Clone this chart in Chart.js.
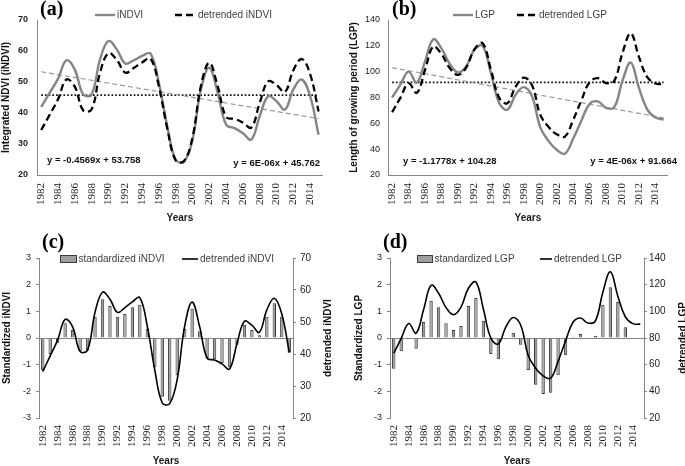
<!DOCTYPE html>
<html>
<head>
<meta charset="utf-8">
<script src="https://cdn.jsdelivr.net/npm/chart.js@4.4.0/dist/chart.umd.min.js"></script>
<style>
  html, body { margin: 0; padding: 0; background: #fff; }
  #wrap { position: relative; width: 685px; height: 466px; overflow: hidden; }
  canvas { position: absolute; }
</style>
</head>
<body>
<div id="wrap">
  <canvas id="chart-a" width="340" height="230" style="left:0;top:0"></canvas>
  <canvas id="chart-b" width="345" height="230" style="left:340px;top:0"></canvas>
  <canvas id="chart-c" width="340" height="236" style="left:0;top:230px"></canvas>
  <canvas id="chart-d" width="350" height="236" style="left:340px;top:230px"></canvas>
</div>
<script>
const years = ['1982', '1983', '1984', '1985', '1986', '1987', '1988', '1989', '1990', '1991',
    '1992', '1993', '1994', '1995', '1996', '1997', '1998', '1999', '2000', '2001',
    '2002', '2003', '2004', '2005', '2006', '2007', '2008', '2009', '2010', '2011',
    '2012', '2013', '2014', '2015'];

const indvi = [42, 46.5, 51, 57, 54, 46, 46, 57.3, 63.2, 60.5, 56, 57, 58.4, 59.2, 49.7, 35.7, 24.9,
    24.3, 31.4, 47.6, 54.6, 46.5, 36.2, 35.1, 33.5, 31.4, 39, 45.4, 43.8, 41.1, 47.6, 50.8, 45.4, 33];
const detrendedIndvi = [34.5, 39.4, 44.4, 50.8, 48.5, 40.8, 41.2, 53, 59.3, 57.1, 53, 54.5, 56.3, 57.6,
    48.6, 35, 24.7, 24.5, 32.1, 48.7, 56.2, 48.6, 38.7, 38.1, 36.9, 35.3, 43.3, 50.2, 49, 46.8, 53.8,
    57.4, 52.5, 40.5];
const stdIndvi = [-1.2, -0.6, -0.2, 0.55, 0.3, -0.5, -0.45, 0.8, 1.45, 1.2, 0.8, 0.9, 1.15, 1.25, 0.35,
    -1.1, -2.2, -2.35, -1.4, 0.35, 1.1, 0.25, -0.75, -0.8, -0.95, -1.1, -0.25, 0.5, 0.3, 0.1, 0.8, 1.3,
    0.8, -0.55];
const indviTrendEnds = [53.3, 38.2];
const indviMean = 45.76;

const lgp = [80, 90, 100, 91.5, 108, 125, 118, 106, 99.5, 104, 117, 120, 99, 76, 70.5, 82, 88, 81, 57,
    46.4, 39.5, 36.5, 48, 62, 75, 77, 72, 72.5, 93, 107, 87.5, 70.8, 64.5, 63];
const detrendedLgp = [68.6, 79.7, 90.9, 83.6, 101.3, 119.5, 113.6, 102.8, 97.5, 103.2, 117.3, 122, 101.7,
    79.9, 75.6, 88.2, 95.4, 89.6, 66.8, 57.3, 51.6, 49.8, 62.5, 77.7, 91.8, 95, 91.2, 92.9, 114.5, 129.7,
    111.4, 95.9, 90.8, 90.4];
const stdLgp = [-1.15, -0.5, -0.05, -0.4, 0.6, 1.4, 1.15, 0.55, 0.3, 0.45, 1.2, 1.5, 0.65, -0.6, -0.8,
    -0.05, 0.2, -0.25, -1.2, -1.75, -2.1, -2.05, -1.4, -0.65, 0.05, 0.15, -0.02, 0.08, 1.25, 1.9, 1.35,
    0.4, -0.02, -0.03];
const lgpTrendEnds = [103.1, 64.2];
const lgpMean = 91.66;

const sans = 'Liberation Sans';
const serif = 'Liberation Serif';
const axisGray = '#868686';

function ends(vals) {
    return [{ x: years[0], y: vals[0] }, { x: years[years.length - 1], y: vals[1] }];
}

// panel letter, legend, equations and right-hand axis title
function makeDecor(cfg) {
    return {
        id: 'decor',
        afterDraw(chart) {
            const ctx = chart.ctx;
            const sets = chart.data.datasets;
            ctx.save();
            ctx.textBaseline = 'middle';
            ctx.textAlign = 'left';
            ctx.fillStyle = '#000';
            ctx.font = 'bold 20px "' + serif + '"';
            ctx.fillText(cfg.label[0], cfg.label[1], cfg.label[2]);

            ctx.font = '10px "' + sans + '"';
            cfg.legend.forEach(item => {
                const ds = sets[item.ds];
                if (item.box) {
                    ctx.fillStyle = ds.backgroundColor;
                    ctx.fillRect(item.x, item.y - 3.5, item.w, 7);
                    ctx.strokeStyle = ds.borderColor;
                    ctx.lineWidth = 1;
                    ctx.strokeRect(item.x + 0.5, item.y - 3.5, item.w - 1, 7);
                } else {
                    ctx.strokeStyle = ds.borderColor;
                    ctx.lineWidth = ds.borderWidth;
                    ctx.setLineDash(ds.borderDash || []);
                    ctx.beginPath();
                    ctx.moveTo(item.x, item.y);
                    ctx.lineTo(item.x + item.w, item.y);
                    ctx.stroke();
                    ctx.setLineDash([]);
                }
                ctx.fillStyle = '#404040';
                ctx.fillText(ds.label, item.x + item.w + (item.gap || 2), item.y);
            });

            ctx.font = 'bold 9.5px "' + sans + '"';
            ctx.fillStyle = '#111';
            (cfg.notes || []).forEach(n => {
                ctx.textAlign = n.align || 'left';
                ctx.fillText(n.text, n.x, n.y);
            });

            if (cfg.rightTitle) {
                const a = chart.chartArea;
                ctx.translate(cfg.rightTitle[1], (a.top + a.bottom) / 2);
                ctx.rotate(-Math.PI / 2);
                ctx.textAlign = 'center';
                ctx.fillStyle = '#111';
                ctx.font = 'bold 10px "' + sans + '"';
                ctx.fillText(cfg.rightTitle[0], 0, 0);
            }
            ctx.restore();
        }
    };
}

function yearAxis(height, pad, showLine, titlePad, lh) {
    return {
        offset: true,
        grid: { display: false, drawTicks: false },
        border: { display: showLine, color: axisGray, width: 1 },
        ticks: {
            autoSkip: false, minRotation: 90, maxRotation: 90, padding: pad, color: '#1a1a1a',
            font: { family: serif, size: 11 },
            callback: (v, i) => i % 2 === 0 ? years[i] : ''
        },
        title: {
            display: true, text: 'Years', color: '#1a1a1a',
            font: { family: sans, size: 10, weight: 'bold', lineHeight: lh },
            padding: { top: 0, bottom: titlePad }
        },
        afterFit: s => { s.height = height; }
    };
}

function valueAxis(opts) {
    const ax = {
        position: opts.position || 'left',
        min: opts.min, max: opts.max,
        ticks: {
            stepSize: opts.step, padding: opts.pad, color: '#222',
            font: { family: sans, size: opts.size || 9, weight: opts.bold ? 'bold' : 'normal' }
        },
        grid: {
            drawOnChartArea: !!opts.zeroLine,
            drawTicks: !!opts.tickMarks,
            tickLength: 3,
            tickColor: axisGray,
            color: c => (opts.zeroLine && c.tick && c.tick.value === 0) ? axisGray : 'rgba(0,0,0,0)'
        },
        border: { display: true, color: axisGray, width: 1 },
        afterFit: s => { s.width = opts.width; }
    };
    if (opts.title) {
        ax.title = {
            display: true, text: opts.title, color: '#111',
            font: { family: sans, size: 10, weight: 'bold' },
            padding: { top: opts.titlePad, bottom: 0 }
        };
    }
    return ax;
}

function lineSet(label, data, color, width, dash, tension) {
    return {
        type: 'line', label: label, data: data, borderColor: color, backgroundColor: color,
        borderWidth: width, borderDash: dash, tension: tension, pointRadius: 0, fill: false
    };
}

function trendChart(id, series, detrended, trendEnds, mean, names, yCfg, layoutPad, decor) {
    new Chart(document.getElementById(id), {
        type: 'line',
        data: {
            labels: years,
            datasets: [
                lineSet(names[1], detrended, '#000', 2.3, [7, 4], 0.4),
                lineSet(names[0], series, '#858585', 2.4, [], 0.4),
                lineSet('trend', ends(trendEnds), '#9a9a9a', 1.2, [5, 3], 0),
                lineSet('mean', ends([mean, mean]), '#111', 1.7, [1.7, 2], 0)
            ]
        },
        options: {
            responsive: false, animation: false, devicePixelRatio: 1,
            layout: { padding: layoutPad },
            plugins: { legend: { display: false }, tooltip: { enabled: false } },
            scales: {
                x: yearAxis(55, 8, true, 5.7, 1.2),
                y: valueAxis(yCfg)
            }
        },
        plugins: [makeDecor(decor)]
    });
}

function standardChart(id, bars, line, names, yCfg, y2Cfg, layoutPad, labelPad, decor) {
    new Chart(document.getElementById(id), {
        type: 'bar',
        data: {
            labels: years,
            datasets: [
                {
                    type: 'bar', label: names[0], data: bars, yAxisID: 'y', order: 2,
                    backgroundColor: '#9e9e9e', borderColor: '#3a3a3a', borderWidth: 1,
                    barPercentage: 0.45, categoryPercentage: 1
                },
                Object.assign(lineSet(names[1], line, '#000', 1.6, [], 0.4), { yAxisID: 'y2', order: 1 })
            ]
        },
        options: {
            responsive: false, animation: false, devicePixelRatio: 1,
            layout: { padding: layoutPad },
            plugins: { legend: { display: false }, tooltip: { enabled: false } },
            scales: {
                x: yearAxis(48, labelPad, false, 0, 1),
                y: valueAxis(yCfg),
                y2: valueAxis(y2Cfg)
            }
        },
        plugins: [makeDecor(decor)]
    });
}

trendChart('chart-a', indvi, detrendedIndvi, indviTrendEnds, indviMean, ['iNDVI', 'detrended iNDVI'],
    { min: 20, max: 70, step: 10, pad: 9, bold: true, width: 37, title: 'Integrated NDVI (iNDVI)', titlePad: 0 },
    { top: 20, right: 15, left: 0, bottom: 0 },
    {
        label: ['(a)', 40, 10],
        legend: [{ ds: 1, x: 95, y: 15, w: 20 }, { ds: 0, x: 175, y: 15, w: 20, gap: 3 }],
        notes: [
            { text: 'y = -0.4569x + 53.758', x: 47, y: 160 },
            { text: 'y = 6E-06x + 45.762', x: 320, y: 163, align: 'right' }
        ]
    });

trendChart('chart-b', lgp, detrendedLgp, lgpTrendEnds, lgpMean, ['LGP', 'detrended LGP'],
    { min: 20, max: 140, step: 20, pad: 8, width: 48, title: 'Length of growing period (LGP)', titlePad: 8 },
    { top: 20, right: 12, left: 0, bottom: 0 },
    {
        label: ['(b)', 52, 10],
        legend: [{ ds: 1, x: 113, y: 15, w: 20 }, { ds: 0, x: 177, y: 15, w: 19, gap: 3 }],
        notes: [
            { text: 'y = -1.1778x + 104.28', x: 63, y: 161 },
            { text: 'y = 4E-06x + 91.664', x: 337, y: 161, align: 'right' }
        ]
    });

standardChart('chart-c', stdIndvi, detrendedIndvi, ['standardized iNDVI', 'detrended iNDVI'],
    { min: -3, max: 3, step: 1, pad: 5, width: 39, tickMarks: true, zeroLine: true, title: 'Standardized iNDVI', titlePad: 1.5 },
    { position: 'right', min: 20, max: 70, step: 10, pad: 4, size: 10, width: 47, tickMarks: true },
    { top: 28, right: 0, left: 0, bottom: 0 }, 7,
    {
        label: ['(c)', 42, 13],
        legend: [{ ds: 0, x: 60, y: 29, w: 17, gap: 1.5, box: true }, { ds: 1, x: 182, y: 29, w: 16 }],
        rightTitle: ['detrended iNDVI', 328]
    });

standardChart('chart-d', stdLgp, detrendedLgp, ['standardized LGP', 'detrended LGP'],
    { min: -3, max: 3, step: 1, pad: 5, width: 50, tickMarks: true, zeroLine: true, title: 'Standardized LGP', titlePad: 13 },
    { position: 'right', min: 20, max: 140, step: 20, pad: 2, size: 10, width: 46, tickMarks: true },
    { top: 28, right: 0, left: 0, bottom: 0 }, 7,
    {
        label: ['(d)', 43, 13],
        legend: [{ ds: 0, x: 77, y: 29, w: 16, gap: 1.5, box: true }, { ds: 1, x: 200, y: 29, w: 12 }],
        rightTitle: ['detrended LGP', 343]
    });
</script>
</body>
</html>
